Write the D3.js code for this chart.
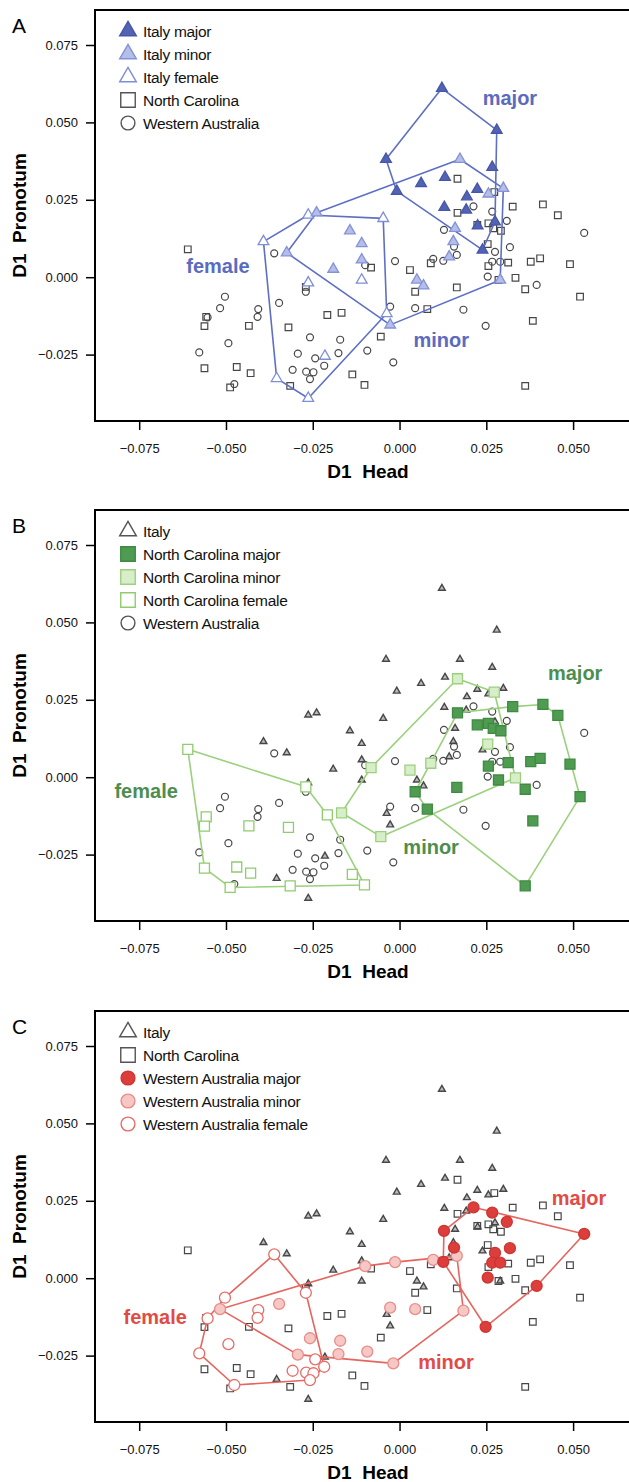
<!DOCTYPE html>
<html lang="en">
<head>
<meta charset="UTF-8">
<title>D1 Head vs D1 Pronotum</title>
<script src="https://d3js.org/d3.v7.min.js"></script>
<style>
  body { margin: 0; background: #fff; }
  svg { display: block; font-family: "Liberation Sans", Arial, sans-serif; }
</style>
</head>
<body>
<div id="chart"></div>
<script>
// axis ticks
const xTicks = [-0.075, -0.05, -0.025, 0, 0.025, 0.05];
const yTicks = [-0.025, 0, 0.025, 0.05, 0.075];

// Italy  [D1 Head, D1 Pronotum]
const italyMajor = [[0.0122,0.0610],[0.0280,0.0475],[-0.0039,0.0381],[0.0267,0.0355],[0.0062,0.0303],[0.0131,0.0323],[-0.0008,0.0278],[0.0224,0.0284],[0.0194,0.0260],[0.0129,0.0226],[0.0192,0.0217],[0.0225,0.0166],[0.0275,0.0179],[0.0239,0.0088]];
const italyMinor = [[0.0174,0.0381],[0.0299,0.0287],[0.0256,0.0269],[0.0160,0.0158],[0.0155,0.0115],[0.0143,0.0066],[0.0050,-0.0009],[0.0069,-0.0028],[0.0290,-0.0009],[-0.0027,-0.0154],[-0.0325,0.0079],[-0.0239,0.0208],[-0.0143,0.0150],[-0.0109,0.0109],[-0.0109,0.0056],[-0.0191,0.0026]];
const italyFemale = [[-0.0392,0.0115],[-0.0263,0.0201],[-0.0047,0.0190],[-0.0037,-0.0117],[-0.0263,-0.0391],[-0.0354,-0.0327],[-0.0215,-0.0255],[-0.0109,-0.0009],[-0.0263,-0.0018]];

// North Carolina
const ncMajor = [[0.0167,0.0208],[0.0326,0.0228],[0.0413,0.0235],[0.0456,0.0200],[0.0224,0.0169],[0.0256,0.0174],[0.0270,0.0158],[0.0292,0.0150],[0.0256,0.0036],[0.0313,0.0047],[0.0378,0.0050],[0.0405,0.0061],[0.0491,0.0042],[0.0285,-0.0009],[0.0362,-0.0039],[0.0520,-0.0063],[0.0165,-0.0033],[0.0045,-0.0047],[0.0080,-0.0103],[0.0384,-0.0141],[0.0362,-0.0351]];
const ncMinor = [[-0.0167,-0.0115],[-0.0082,0.0031],[0.0167,0.0318],[0.0273,0.0275],[0.0334,-0.0002],[-0.0054,-0.0192],[0.0030,0.0023],[0.0090,0.0045],[0.0254,0.0107]];
const ncFemale = [[-0.0610,0.0090],[-0.0270,-0.0031],[-0.0557,-0.0128],[-0.0562,-0.0158],[-0.0434,-0.0157],[-0.0320,-0.0162],[-0.0208,-0.0122],[-0.0562,-0.0294],[-0.0469,-0.0290],[-0.0429,-0.0310],[-0.0488,-0.0356],[-0.0315,-0.0351],[-0.0136,-0.0314],[-0.0101,-0.0348]];

// Western Australia
const waMajor = [[0.0213,0.0229],[0.0267,0.0212],[0.0309,0.0182],[0.0532,0.0143],[0.0128,0.0153],[0.0157,0.0099],[0.0126,0.0053],[0.0275,0.0082],[0.0318,0.0097],[0.0267,0.0050],[0.0290,0.0050],[0.0254,0.0002],[0.0395,-0.0025],[0.0248,-0.0157]];
const waMinor = [[-0.0517,-0.0100],[-0.0347,-0.0083],[-0.0258,-0.0194],[-0.0171,-0.0202],[-0.0176,-0.0245],[-0.0293,-0.0247],[-0.0099,0.0039],[-0.0013,0.0052],[0.0097,0.0059],[0.0165,0.0072],[-0.0027,-0.0095],[0.0045,-0.0100],[0.0184,-0.0105],[-0.0093,-0.0237],[-0.0018,-0.0275]];
const waFemale = [[-0.0361,0.0077],[-0.0503,-0.0063],[-0.0553,-0.0130],[-0.0270,-0.0047],[-0.0407,-0.0103],[-0.0409,-0.0128],[-0.0493,-0.0213],[-0.0577,-0.0243],[-0.0243,-0.0262],[-0.0217,-0.0286],[-0.0308,-0.0299],[-0.0269,-0.0305],[-0.0248,-0.0307],[-0.0258,-0.0329],[-0.0476,-0.0345]];

// caste label positions, data units: [major, minor, female]
const labelsA = [[0.0318,0.0580],[0.0120,-0.0203],[-0.0523,0.0036]];
const labelsB = [[0.0506,0.0338],[0.0091,-0.0227],[-0.0730,-0.0043]];
const labelsC = [[0.0517,0.0259],[0.0134,-0.0270],[-0.0704,-0.0124]];

const castes = ["major", "minor", "female"];

const sites = [
  { key: "italy", name: "Italy", shape: d3.symbolTriangle, major: italyMajor, minor: italyMinor, female: italyFemale,
    size: 50, graySize: 20, legendSize: 120 },
  { key: "nc", name: "North Carolina", shape: d3.symbolSquare, major: ncMajor, minor: ncMinor, female: ncFemale,
    size: 100, graySize: 44, legendSize: 210 },
  { key: "wa", name: "Western Australia", shape: d3.symbolCircle, major: waMajor, minor: waMinor, female: waFemale,
    size: 95, graySize: 38, legendSize: 150 }
];

const panels = [
  { letter: "A", focus: "italy", offset: 0, labels: labelsA,
    line: "#5e6fc4", text: "#5a6bc0",
    styles: { major: ["#5263b4", "#4757a8"], minor: ["#b4bee9", "#8492d7"], female: ["#fff", "#7e8ed7"] } },
  { letter: "B", focus: "nc", offset: 500, labels: labelsB,
    line: "#9ad17c", text: "#4c8e4f",
    styles: { major: ["#4f9b51", "#3f8a42"], minor: ["#d8eec8", "#9ccf80"], female: ["#fff", "#8fcc6e"] } },
  { letter: "C", focus: "wa", offset: 1001, labels: labelsC,
    line: "#e5665f", text: "#e24b45",
    styles: { major: ["#dc3e3b", "#cf3431"], minor: ["#f5c7c5", "#e98c87"], female: ["#fff", "#e66d67"] } }
];

const W = 629, H = 1482;
const frame = { left: 95, right: 640, top: 10, bottom: 421 };
const grayStroke = "#474747";

const x = d3.scaleLinear().domain([-0.075, 0.05]).range([139.2, 573.1]);
const y = d3.scaleLinear().domain([-0.025, 0.075]).range([354.6, 45]);
const fmt = d3.format(".3f");

const svg = d3.select("#chart").append("svg")
  .attr("width", W)
  .attr("height", H)
  .attr("viewBox", [0, 0, W, H]);

panels.forEach(p => {
  const g = svg.append("g").attr("transform", `translate(0,${p.offset})`);

  // clip so nothing spills past the box
  const clipId = "clip" + p.letter;
  g.append("clipPath").attr("id", clipId)
    .append("rect")
    .attr("x", frame.left).attr("y", frame.top)
    .attr("width", frame.right - frame.left).attr("height", frame.bottom - frame.top);

  const plot = g.append("g").attr("clip-path", `url(#${clipId})`);

  // grey points for the other two sites
  sites.filter(s => s.key !== p.focus).forEach(s => {
    const pts = [].concat(s.major, s.minor, s.female);
    plot.append("g")
      .selectAll("path")
      .data(pts)
      .join("path")
      .attr("transform", d => `translate(${x(d[0])},${y(d[1])})`)
      .attr("d", d3.symbol(s.shape, s.graySize))
      .attr("fill", s.key === "italy" ? "#bbb" : "none")
      .attr("stroke", grayStroke)
      .attr("stroke-width", s.key === "italy" ? 1.4 : 1.2);
  });

  // convex hulls for focus site
  const site = sites.find(s => s.key === p.focus);
  castes.forEach(c => {
    const hull = d3.polygonHull(site[c].map(d => [x(d[0]), y(d[1])]));
    plot.append("path")
      .attr("d", "M" + hull.join("L") + "Z")
      .attr("fill", "none")
      .attr("stroke", p.line)
      .attr("stroke-width", 1.6)
      .attr("stroke-linejoin", "round");
  });

  // focus points (female first, major on top)
  ["female", "minor", "major"].forEach(c => {
    plot.append("g")
      .selectAll("path")
      .data(site[c])
      .join("path")
      .attr("transform", d => `translate(${x(d[0])},${y(d[1])})`)
      .attr("d", d3.symbol(site.shape, site.size))
      .attr("fill", p.styles[c][0])
      .attr("stroke", p.styles[c][1])
      .attr("stroke-width", 1.3);
  });

  // caste labels
  plot.append("g")
    .selectAll("text")
    .data(castes)
    .join("text")
    .attr("x", (c, i) => x(p.labels[i][0]))
    .attr("y", (c, i) => y(p.labels[i][1]))
    .attr("dy", "0.35em")
    .attr("text-anchor", "middle")
    .attr("font-size", 20)
    .attr("font-weight", "bold")
    .attr("fill", p.text)
    .text(c => c);

  // legend
  const rows = [];
  sites.forEach(s => {
    if (s.key === p.focus) {
      castes.forEach(c => rows.push({ label: `${s.name} ${c}`, shape: s.shape, size: s.legendSize,
        fill: p.styles[c][0], stroke: p.styles[c][1] }));
    } else {
      rows.push({ label: s.name, shape: s.shape, size: s.legendSize, fill: "#fff", stroke: "#555" });
    }
  });
  const leg = g.append("g").attr("transform", "translate(128,31)");
  const row = leg.selectAll("g").data(rows).join("g")
    .attr("transform", (d, i) => `translate(0,${i * 23})`);
  row.append("path")
    .attr("d", d => d3.symbol(d.shape, d.size)())
    .attr("fill", d => d.fill)
    .attr("stroke", d => d.stroke)
    .attr("stroke-width", 1.4);
  row.append("text")
    .attr("x", 15)
    .attr("dy", "0.36em")
    .attr("font-size", 15.5)
    .attr("letter-spacing", -0.3)
    .attr("fill", "#111")
    .text(d => d.label);

  // frame
  g.append("rect")
    .attr("x", frame.left).attr("y", frame.top)
    .attr("width", frame.right - frame.left).attr("height", frame.bottom - frame.top)
    .attr("fill", "none").attr("stroke", "#000").attr("stroke-width", 2);

  // axes
  const ax = g.append("g")
    .attr("transform", `translate(0,${frame.bottom})`)
    .call(d3.axisBottom(x).tickValues(xTicks).tickFormat(fmt).tickSize(9).tickPadding(14));
  const ay = g.append("g")
    .attr("transform", `translate(${frame.left},0)`)
    .call(d3.axisLeft(y).tickValues(yTicks).tickFormat(fmt).tickSize(9).tickPadding(8));
  [ax, ay].forEach(a => {
    a.select(".domain").remove();
    a.attr("font-size", 13).attr("font-family", "'Liberation Sans', Arial, sans-serif");
    a.selectAll(".tick line").attr("stroke", "#000").attr("stroke-width", 1.5);
    a.selectAll(".tick text").attr("fill", "#111");
  });

  // axis titles
  g.append("text")
    .attr("x", (frame.left + frame.right) / 2 + 0.5)
    .attr("y", 478)
    .attr("text-anchor", "middle")
    .attr("font-size", 19)
    .attr("font-weight", "bold")
    .attr("xml:space", "preserve")
    .text("D1  Head");
  g.append("text")
    .attr("transform", `translate(26,${(frame.top + frame.bottom) / 2}) rotate(-90)`)
    .attr("text-anchor", "middle")
    .attr("font-size", 19)
    .attr("font-weight", "bold")
    .attr("xml:space", "preserve")
    .text("D1  Pronotum");

  // panel letter
  g.append("text")
    .attr("x", 12)
    .attr("y", 33)
    .attr("font-size", 21)
    .text(p.letter);
});
</script>
</body>
</html>
